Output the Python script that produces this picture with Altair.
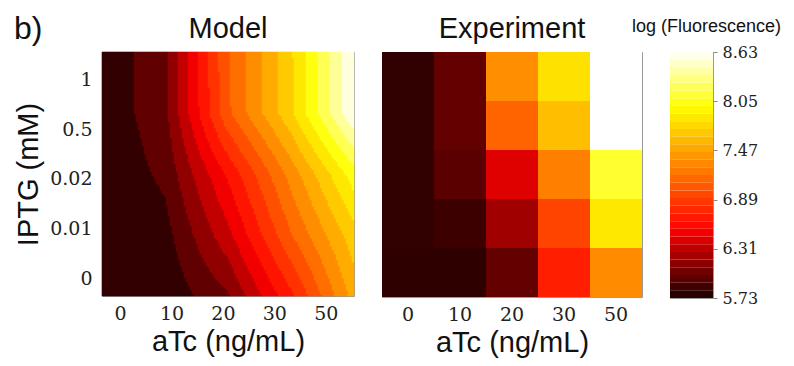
import json
import altair as alt
import pandas as pd

# ---------------- data ----------------
PANEL_LABEL = "b)"
ATC_LABELS = ["0", "10", "20", "30", "50"]          # aTc (ng/mL), left -> right
IPTG_LABELS = ["0", "0.01", "0.02", "0.5", "1"]     # IPTG (mM), bottom -> top

# Model: log fluorescence at the grid nodes (rows: IPTG bottom -> top, cols: aTc left -> right)
MODEL_Z = [
    [5.73, 5.77, 6.05, 6.71, 7.50],   # IPTG 0
    [5.74, 5.83, 6.36, 7.08, 7.71],   # IPTG 0.01
    [5.75, 5.94, 6.61, 7.33, 8.04],   # IPTG 0.02
    [5.77, 6.02, 7.06, 7.74, 8.62],   # IPTG 0.5
    [5.77, 6.03, 7.08, 7.75, 8.63],   # IPTG 1
]

# Experiment: log fluorescence per cell (rows: IPTG bottom -> top, cols: aTc left -> right)
EXP_Z = [
    [5.80, 5.80, 5.99, 6.72, 7.34],   # IPTG 0
    [5.81, 5.85, 6.21, 6.93, 7.86],   # IPTG 0.01
    [5.81, 5.96, 6.43, 7.27, 8.11],   # IPTG 0.02
    [5.81, 5.99, 7.11, 7.63, 8.63],   # IPTG 0.5
    [5.81, 5.99, 7.35, 7.82, 8.63],   # IPTG 1
]

CBAR_TICKS = [5.73, 6.31, 6.89, 7.47, 8.05, 8.63]
N_LEVELS = 17      # filled-contour levels of the model panel
N_STRIPES = 32     # steps of the colour bar

# "hot" style colormap stops (fraction of the colour range -> colour)
CMAP_POS = [0.0, 0.28, 0.78, 1.0]
CMAP_COLORS = ["#1a0000", "#ff0000", "#ffff00", "#ffffff"]

# tick positions of the model panel axes (in grid units, 0..5)
MODEL_TICK_POS = [0.36, 1.38, 2.40, 3.42, 4.44]

# ---------------- derived tables / scales ----------------
CMIN, CMAX = CBAR_TICKS[0], CBAR_TICKS[-1]
LEVEL_STEP = (CMAX - CMIN) / N_LEVELS
STRIPE_STEP = (CMAX - CMIN) / N_STRIPES

def color_scale():
    return alt.Scale(domain=[CMIN + p * (CMAX - CMIN) for p in CMAP_POS],
                     range=CMAP_COLORS, interpolate="rgb", clamp=True)

grid_df = pd.DataFrame([{"gk": j * 5 + i, "z": MODEL_Z[j][i]}
                        for j in range(5) for i in range(5)])

exp_df = pd.DataFrame([{"atc": ATC_LABELS[i], "iptg": IPTG_LABELS[j], "z": EXP_Z[j][i]}
                       for j in range(5) for i in range(5)])

SERIF = "DejaVu Serif"
SANS = "Liberation Sans"
LABEL_COLOR = "#222222"

atc_expr = json.dumps(ATC_LABELS) + "[floor(datum.value)]"
iptg_expr = json.dumps(IPTG_LABELS) + "[floor(datum.value)]"

def x_axis():
    return dict(title="aTc (ng/mL)", ticks=False, domain=False, grid=False,
                labelFont=SERIF, labelFontSize=19, labelColor=LABEL_COLOR, labelPadding=8,
                labelAngle=0, titleFont=SANS, titleFontSize=29, titleFontWeight="normal",
                titleColor="#111111", titlePadding=4)

def panel_title(text, offset):
    return alt.TitleParams(text, font=SANS, fontSize=29, fontWeight="normal",
                           color="#111111", frame="group", anchor="middle", offset=offset)

# ---------------- Model panel: filled contours of the node grid ----------------
NX, NY = 126, 122
model = alt.Chart(alt.sequence(0, NX * NY, as_="k")).transform_calculate(
    ix=f"datum.k % {NX}",
    iy=f"floor(datum.k / {NX})",
).transform_calculate(
    u=f"(datum.ix + 0.5) / {NX} * 4",
    v=f"(datum.iy + 0.5) / {NY} * 4",
).transform_calculate(
    i0="min(floor(datum.u), 3)",
    j0="min(floor(datum.v), 3)",
).transform_calculate(
    fu="datum.u - datum.i0",
    fv="datum.v - datum.j0",
    k00="datum.j0 * 5 + datum.i0",
    k10="datum.j0 * 5 + datum.i0 + 1",
    k01="(datum.j0 + 1) * 5 + datum.i0",
    k11="(datum.j0 + 1) * 5 + datum.i0 + 1",
    x0=f"datum.ix * 5 / {NX}",
    x1=f"(datum.ix + 1) * 5 / {NX}",
    y0=f"datum.iy * 5 / {NY}",
    y1=f"(datum.iy + 1) * 5 / {NY}",
)
for c in ["00", "10", "01", "11"]:
    model = model.transform_lookup(
        lookup="k" + c,
        from_=alt.LookupData(data=grid_df, key="gk", fields=["z"]),
        as_=["z" + c],
    )
model = model.transform_calculate(
    zz="(1 - datum.fu) * (1 - datum.fv) * datum.z00 + datum.fu * (1 - datum.fv) * datum.z10"
       " + (1 - datum.fu) * datum.fv * datum.z01 + datum.fu * datum.fv * datum.z11",
).transform_calculate(
    band=f"clamp(floor((datum.zz - {CMIN}) / {LEVEL_STEP}), 0, {N_LEVELS - 1})",
).transform_calculate(
    zc=f"{CMIN} + (datum.band + 0.5) * {LEVEL_STEP}",
).mark_rect(strokeWidth=0.6).encode(
    x=alt.X("x0:Q", scale=alt.Scale(domain=[0, 5], nice=False, zero=False),
            axis=alt.Axis(values=MODEL_TICK_POS, labelExpr=atc_expr, **x_axis())),
    x2="x1:Q",
    y=alt.Y("y0:Q", scale=alt.Scale(domain=[0, 5], nice=False, zero=False),
            axis=alt.Axis(values=MODEL_TICK_POS, labelExpr=iptg_expr, title="IPTG (mM)",
                          ticks=False, domain=False, grid=False,
                          labelFont=SERIF, labelFontSize=19, labelColor=LABEL_COLOR,
                          labelPadding=10, titleFont=SANS, titleFontSize=29,
                          titleFontWeight="normal", titleColor="#111111", titlePadding=6)),
    y2="y1:Q",
    color=alt.Color("zc:Q", scale=color_scale(), legend=None),
    stroke=alt.Stroke("zc:Q", scale=color_scale(), legend=None),
)

label = alt.Chart(pd.DataFrame({"t": [PANEL_LABEL]})).mark_text(
    font=SANS, fontSize=32, align="left", baseline="alphabetic", color="#111111"
).encode(text="t:N", x=alt.value(-88), y=alt.value(-13))

model_panel = alt.layer(model, label).properties(
    width=252, height=244, title=panel_title("Model", -31))

# ---------------- Experiment panel ----------------
exp_panel = alt.Chart(exp_df).mark_rect().encode(
    x=alt.X("atc:O", sort=ATC_LABELS, axis=alt.Axis(**x_axis())),
    y=alt.Y("iptg:O", sort=IPTG_LABELS[::-1], axis=None),
    color=alt.Color("z:Q", scale=color_scale(), legend=None),
).properties(width=260, height=245, title=panel_title("Experiment", 8))

# ---------------- Colour bar ----------------
cbar = alt.Chart(alt.sequence(0, N_STRIPES, as_="k")).transform_calculate(
    lo=f"{CMIN} + datum.k * {STRIPE_STEP}",
    hi=f"{CMIN} + (datum.k + 1) * {STRIPE_STEP}",
    mid=f"{CMIN} + (datum.k + 0.5) * {STRIPE_STEP}",
).mark_rect().encode(
    y=alt.Y("lo:Q", scale=alt.Scale(domain=[CMIN, CMAX], nice=False, zero=False),
            axis=alt.Axis(orient="right", values=CBAR_TICKS, format=".2f", title=None,
                          grid=False, domain=False, ticks=True, tickSize=4,
                          tickColor="#888888", labelFont=SERIF, labelFontSize=16,
                          labelColor=LABEL_COLOR, labelPadding=5)),
    y2="hi:Q",
    color=alt.Color("mid:Q", scale=color_scale(), legend=None),
).properties(width=43, height=246,
             title=alt.TitleParams("log (Fluorescence)", font=SANS, fontSize=18,
                                   fontWeight="normal", color="#111111",
                                   anchor="start", frame="group", dx=-38, offset=8))

chart = alt.hconcat(model_panel, exp_panel, cbar, spacing=28, bounds="flush").resolve_scale(
    color="independent", stroke="independent", x="independent", y="independent"
).properties(
    padding={"left": 5, "top": 4, "right": 0, "bottom": 0}
).configure_view(stroke="#999999", strokeWidth=1)

chart.save("out.html", embed_options={"renderer": "svg", "actions": False})
